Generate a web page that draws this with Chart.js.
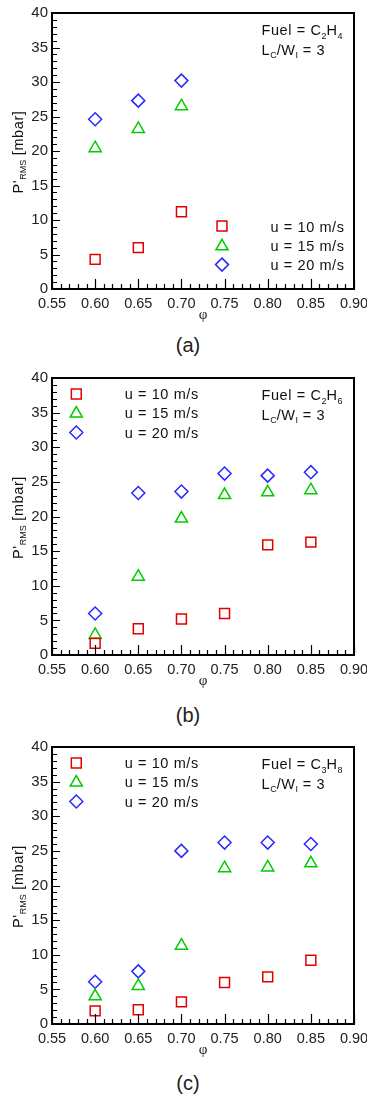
<!DOCTYPE html>
<html>
<head>
<meta charset="utf-8">
<title>P'RMS vs equivalence ratio</title>
<script src="https://cdn.jsdelivr.net/npm/chart.js"></script>
<style>
  body { margin: 0; background: #fff; }
  #wrap { position: relative; width: 367px; height: 1095px; }
  .panel { position: absolute; left: 0; width: 367px; height: 330px; }
  .cap { position: absolute; left: 188px; transform: translate(-50%, -50%);
         font: 20px "Liberation Sans", Arial, sans-serif; color: #222; }
</style>
</head>
<body>
<div id="wrap">
  <div class="panel" style="top:0"><canvas id="chartA" width="367" height="330"></canvas></div>
  <div class="cap" style="top:345px">(a)</div>
  <div class="panel" style="top:365px"><canvas id="chartB" width="367" height="330"></canvas></div>
  <div class="cap" style="top:715px">(b)</div>
  <div class="panel" style="top:734px"><canvas id="chartC" width="367" height="330"></canvas></div>
  <div class="cap" style="top:1083px">(c)</div>
</div>

<script>
// equivalence ratio values
var phiA = [0.60, 0.65, 0.70];
var phiBC = [0.60, 0.65, 0.70, 0.75, 0.80, 0.85];

// (a) C2H4
var c2h4_u10 = [4.3, 6.0, 11.2];
var c2h4_u15 = [20.4, 23.2, 26.5];
var c2h4_u20 = [24.6, 27.3, 30.2];

// (b) C2H6
var c2h6_u10 = [1.7, 3.8, 5.2, 6.0, 15.9, 16.3];
var c2h6_u15 = [2.9, 11.3, 19.7, 23.1, 23.5, 23.8];
var c2h6_u20 = [6.0, 23.4, 23.6, 26.2, 25.9, 26.4];

// (c) C3H8
var c3h8_u10 = [1.9, 2.05, 3.2, 6.0, 6.8, 9.2];
var c3h8_u15 = [4.0, 5.5, 11.3, 22.5, 22.6, 23.2];
var c3h8_u20 = [6.1, 7.6, 25.0, 26.2, 26.2, 26.0];

var seriesLabels = ['u = 10 m/s', 'u = 15 m/s', 'u = 20 m/s'];
var xTicks = [0.55, 0.60, 0.65, 0.70, 0.75, 0.80, 0.85, 0.90];
var yTicks = [0, 5, 10, 15, 20, 25, 30, 35, 40];

var RED = 'rgb(225,0,0)', GREEN = 'rgb(0,205,0)', BLUE = 'rgb(40,40,255)';
var styles = [
  { color: RED, shape: 'rect', r: 7 },
  { color: GREEN, shape: 'triangle', r: 7 },
  { color: BLUE, shape: 'rectRot', r: 6.5 }
];
var FONT = '"Liberation Sans", Arial, sans-serif';
var TXT = 14.5;

function pts(xs, ys) {
  return xs.map(function (x, i) { return { x: x, y: ys[i] }; });
}

function marker(ctx, st, x, y) {
  var r = st.r;
  ctx.save();
  ctx.strokeStyle = st.color;
  ctx.lineWidth = 1.5;
  ctx.beginPath();
  if (st.shape === 'rect') {
    var h = r * Math.SQRT1_2;
    ctx.rect(x - h, y - h, 2 * h, 2 * h);
  } else if (st.shape === 'triangle') {
    var s = r * Math.sin(Math.PI * 2 / 3);
    ctx.moveTo(x, y - r);
    ctx.lineTo(x + s, y + r / 2);
    ctx.lineTo(x - s, y + r / 2);
    ctx.closePath();
  } else {
    ctx.moveTo(x - r, y); ctx.lineTo(x, y - r);
    ctx.lineTo(x + r, y); ctx.lineTo(x, y + r);
    ctx.closePath();
  }
  ctx.stroke();
  ctx.restore();
}

// text pieces; subscripts are {sub: '2'}
function setFont(ctx, p, size) {
  if (typeof p === 'string') {
    ctx.font = size + 'px ' + FONT;
    ctx.letterSpacing = '0.6px';
  } else {
    ctx.font = Math.round(size * 0.65) + 'px ' + FONT;
    ctx.letterSpacing = '0px';
  }
}
function richWidth(ctx, parts, size) {
  var w = 0;
  parts.forEach(function (p) {
    setFont(ctx, p, size);
    w += ctx.measureText(typeof p === 'string' ? p : p.sub).width;
  });
  return w;
}
function richText(ctx, parts, x, y, size) {
  parts.forEach(function (p) {
    setFont(ctx, p, size);
    var t = typeof p === 'string' ? p : p.sub;
    ctx.fillText(t, x, typeof p === 'string' ? y : y + size * 0.25);
    x += ctx.measureText(t).width;
  });
  ctx.letterSpacing = '0px';
  return x;
}

var decor = {
  id: 'decor',
  afterDatasetsDraw: function (chart, args, o) {
    var ctx = chart.ctx, a = chart.chartArea;
    var xs = chart.scales.x, ys = chart.scales.y;
    ctx.save();
    ctx.strokeStyle = '#000';
    ctx.lineWidth = 1.2;
    ctx.beginPath();
    for (var i = 0; i <= 35; i++) {
      var px = Math.round(xs.getPixelForValue(0.55 + i * 0.01)) + 0.5;
      var len = (i % 5 === 0) ? 10 : 5;
      ctx.moveTo(px, a.bottom); ctx.lineTo(px, a.bottom - len);
    }
    for (var j = 0; j <= 40; j++) {
      var py = Math.round(ys.getPixelForValue(j)) + 0.5;
      var l2 = (j % 5 === 0) ? 8 : 5;
      ctx.moveTo(a.left, py); ctx.lineTo(a.left + l2, py);
    }
    ctx.stroke();
    ctx.lineWidth = 2;
    ctx.strokeRect(a.left, a.top, a.right - a.left, a.bottom - a.top);

    // y title
    ctx.fillStyle = '#111';
    var title = ["P'", { sub: 'RMS' }, ' [mbar]'];
    var tw = richWidth(ctx, title, TXT);
    ctx.translate(22.5, (a.top + a.bottom) / 2 + 1);
    ctx.rotate(-Math.PI / 2);
    ctx.textBaseline = 'alphabetic';
    richText(ctx, title, -tw / 2, 0, TXT);
    ctx.restore();

    // x title
    ctx.save();
    ctx.fillStyle = '#222';
    ctx.font = '15px "Liberation Serif", serif';
    ctx.textAlign = 'center';
    ctx.textBaseline = 'middle';
    ctx.fillText('\u03C6', (a.left + a.right) / 2, a.bottom + 26);
    ctx.restore();

    // fuel note
    ctx.save();
    ctx.fillStyle = '#111';
    ctx.textBaseline = 'alphabetic';
    richText(ctx, ['Fuel = C', { sub: o.c }, 'H', { sub: o.h }], a.left + 209.5, a.top + 22, TXT);
    richText(ctx, ['L', { sub: 'C' }, '/W', { sub: 'I' }, ' = 3'], a.left + 209.5, a.top + 41.5, TXT);

    // legend
    var L = o.legend;
    for (var k = 0; k < 3; k++) {
      var base = L.fromBottom ? a.bottom + L.rows[k] : a.top + L.rows[k];
      var mk = L.fromBottom ? a.bottom + L.marks[k] : a.top + L.marks[k];
      marker(ctx, styles[k], a.left + L.mx, mk);
      richText(ctx, [seriesLabels[k]], a.left + L.tx, base, TXT);
    }
    ctx.restore();
  }
};

function makeChart(id, xs, u10, u15, u20, note, legend, padTop, padBottom) {
  var sets = [u10, u15, u20].map(function (ys, k) {
    return {
      label: seriesLabels[k],
      data: pts(xs, ys),
      pointStyle: styles[k].shape,
      pointRadius: styles[k].r,
      pointHoverRadius: styles[k].r,
      pointBorderWidth: 1.5,
      pointBorderColor: styles[k].color,
      pointBackgroundColor: 'rgba(0,0,0,0)',
      showLine: false
    };
  });
  return new Chart(document.getElementById(id), {
    type: 'scatter',
    data: { datasets: sets },
    plugins: [decor],
    options: {
      responsive: false,
      animation: false,
      layout: { padding: { top: padTop, bottom: padBottom, left: 0, right: 13 } },
      plugins: {
        legend: { display: false },
        tooltip: { enabled: false },
        decor: { c: note.c, h: note.h, legend: legend }
      },
      scales: {
        x: {
          type: 'linear', min: 0.55, max: 0.90,
          grid: { display: false, drawTicks: false },
          border: { display: false },
          afterBuildTicks: function (s) { s.ticks = xTicks.map(function (v) { return { value: v }; }); },
          afterFit: function (s) { s.height = 36; s.paddingLeft = 0; s.paddingRight = 0; },
          ticks: {
            padding: 6, color: '#222', font: { family: FONT, size: 14.5 },
            maxRotation: 0, autoSkip: false,
            callback: function (v) { return Number(v).toFixed(2); }
          }
        },
        y: {
          type: 'linear', min: 0, max: 40,
          grid: { display: false, drawTicks: false },
          border: { display: false },
          afterBuildTicks: function (s) { s.ticks = yTicks.map(function (v) { return { value: v }; }); },
          afterFit: function (s) { s.width = 52; },
          ticks: { padding: 4, color: '#222', font: { family: FONT, size: 15 } }
        }
      }
    }
  });
}

var legendLow = { fromBottom: true, mx: 170, tx: 218.5, rows: [-57, -38.5, -19.5], marks: [-63, -42.7, -24.4] };
var legendTop = { fromBottom: false, mx: 24.3, tx: 72.7, rows: [21, 40.3, 60.3], marks: [16, 35.6, 54.5] };

makeChart('chartA', phiA, c2h4_u10, c2h4_u15, c2h4_u20, { c: '2', h: '4' }, legendLow, 11, 5);
makeChart('chartB', phiBC, c2h6_u10, c2h6_u15, c2h6_u20, { c: '2', h: '6' }, legendTop, 11, 4);
makeChart('chartC', phiBC, c3h8_u10, c3h8_u15, c3h8_u20, { c: '3', h: '8' }, legendTop, 11, 4);
</script>
</body>
</html>
